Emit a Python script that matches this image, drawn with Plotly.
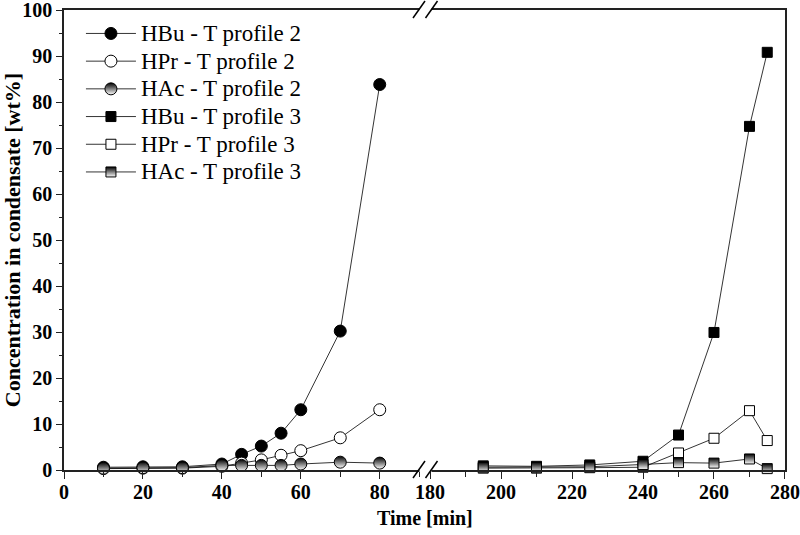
import plotly.graph_objects as go

# ---- data ----
time_p2 = [10, 20, 30, 40, 45, 50, 55, 60, 70, 80]
hbu_p2 = [0.6, 0.7, 0.7, 1.3, 3.4, 5.2, 8.0, 13.1, 30.2, 83.8]
hpr_p2 = [0.3, 0.4, 0.4, 0.8, 1.5, 2.2, 3.2, 4.2, 7.0, 13.1]
hac_p2 = [0.4, 0.5, 0.5, 1.0, 1.0, 1.0, 1.0, 1.3, 1.7, 1.5]

time_p3 = [195, 210, 225, 240, 250, 260, 270, 275]
hbu_p3 = [0.9, 0.8, 1.1, 1.9, 7.6, 29.9, 74.7, 90.8]
hpr_p3 = [0.4, 0.4, 0.5, 0.6, 3.7, 6.9, 12.9, 6.4]
hac_p3 = [0.6, 0.6, 0.7, 1.2, 1.6, 1.5, 2.4, 0.3]

names = ["HBu - T profile 2", "HPr - T profile 2", "HAc - T profile 2",
         "HBu - T profile 3", "HPr - T profile 3", "HAc - T profile 3"]

x_left_ticks = [0, 20, 40, 60, 80]
x_right_ticks = [180, 200, 220, 240, 260, 280]
y_ticks = [0, 10, 20, 30, 40, 50, 60, 70, 80, 90, 100]

FONT = "Liberation Serif"
BREAK = 0.5014  # paper position of axis break

fig = go.Figure()

line_style = dict(color="black", width=0.8)

def marker(symbol, size, kind):
    if kind == "filled":
        return dict(symbol=symbol, size=size, color="black", line=dict(color="black", width=1))
    if kind == "open":
        return dict(symbol=symbol, size=size, color="white", line=dict(color="black", width=1))
    return dict(symbol=symbol, size=size, color="black", line=dict(color="black", width=1),
                gradient=dict(type="vertical", color="white"))

series = [
    (time_p2, hbu_p2, names[0], "circle", 12, "filled", "x", "y"),
    (time_p2, hpr_p2, names[1], "circle", 12, "open", "x", "y"),
    (time_p2, hac_p2, names[2], "circle", 12, "half", "x", "y"),
    (time_p3, hbu_p3, names[3], "square", 10, "filled", "x2", "y2"),
    (time_p3, hpr_p3, names[4], "square", 10, "open", "x2", "y2"),
    (time_p3, hac_p3, names[5], "square", 10, "half", "x2", "y2"),
]
for xs, ys, nm, sym, sz, kind, xa, ya in series:
    fig.add_trace(go.Scatter(x=xs, y=ys, name="<span style='font-size:23px'>%s</span>" % nm,
                             mode="lines+markers",
                             line=line_style, marker=marker(sym, sz, kind),
                             xaxis=xa, yaxis=ya, cliponaxis=False))

tickfont = dict(family=FONT, size=20, color="black")
def bold(vals):
    return ["<b>%d</b>" % v for v in vals]

common_x = dict(showline=True, linecolor="#222", linewidth=1.5, mirror=True, automargin=False,
                ticks="outside", ticklen=7, tickwidth=1.2, tickcolor="#222",
                ticklabeloverflow="allow", ticklabelstandoff=-4,
                showgrid=False, zeroline=False, tickfont=tickfont)

fig.update_layout(
    width=800, height=535,
    margin=dict(l=64, r=15, t=10, b=65, autoexpand=False),
    plot_bgcolor="white", paper_bgcolor="white",
    xaxis=dict(domain=[0, BREAK], range=[0, 91.6], tickvals=x_left_ticks,
               ticktext=bold(x_left_ticks), anchor="y",
               minor=dict(ticks="outside", ticklen=5, tickwidth=1, tickcolor="#222",
                          tick0=10, dtick=20),
               **common_x),
    xaxis2=dict(domain=[BREAK, 1], range=[178.73, 280], tickvals=x_right_ticks,
                ticktext=bold(x_right_ticks), anchor="y2",
                minor=dict(ticks="outside", ticklen=5, tickwidth=1, tickcolor="#222",
                           tick0=190, dtick=20),
                **common_x),
    yaxis=dict(range=[0, 100], tickvals=y_ticks, ticktext=bold(y_ticks), automargin=False,
               showline=True, linecolor="#222", linewidth=1.5, ticklabeloverflow="allow",
               ticks="outside", ticklen=6, tickwidth=1.2, tickcolor="#222",
               showgrid=False, zeroline=False, tickfont=tickfont, anchor="x",
               minor=dict(ticks="outside", ticklen=3, tickwidth=1, tickcolor="#222", dtick=5),
               title=dict(text="<b>Concentration in condensate [wt%]</b>",
                          font=dict(family=FONT, size=22, color="black"),
                          standoff=2)),
    yaxis2=dict(range=[0, 100], overlaying="y", anchor="x2", side="right", showline=True,
                linecolor="#222", linewidth=1.5, ticks="", showticklabels=False,
                showgrid=False, zeroline=False, automargin=False),
    legend=dict(x=0.0235, y=0.99, xanchor="left", yanchor="top", itemwidth=50,
                font=dict(family=FONT, size=19, color="black"),
                bgcolor="rgba(0,0,0,0)", borderwidth=0, tracegroupgap=0),
    annotations=[dict(text="<b>Time [min]</b>", x=0.5, y=-0.075, xref="paper", yref="paper",
                      xanchor="center", yanchor="top", showarrow=False,
                      font=dict(family=FONT, size=20, color="black"))],
)

# axis break marks (decoration)
shapes = []
for ya in (0, 1):
    shapes.append(dict(type="line", xref="paper", yref="paper", xsizemode="pixel",
                       ysizemode="pixel", xanchor=BREAK, yanchor=ya, x0=-6, x1=6, y0=0, y1=0,
                       line=dict(color="white", width=4)))
    for off in (-6.5, 6.0):
        shapes.append(dict(type="line", xref="paper", yref="paper", xsizemode="pixel",
                           ysizemode="pixel", xanchor=BREAK, yanchor=ya,
                           x0=off - 6, x1=off + 6, y0=-8, y1=9,
                           line=dict(color="black", width=1.5)))
fig.update_layout(shapes=shapes)

fig.write_html("out.html", config={"displayModeBar": False},
               post_script="document.body.style.margin='0px';")
